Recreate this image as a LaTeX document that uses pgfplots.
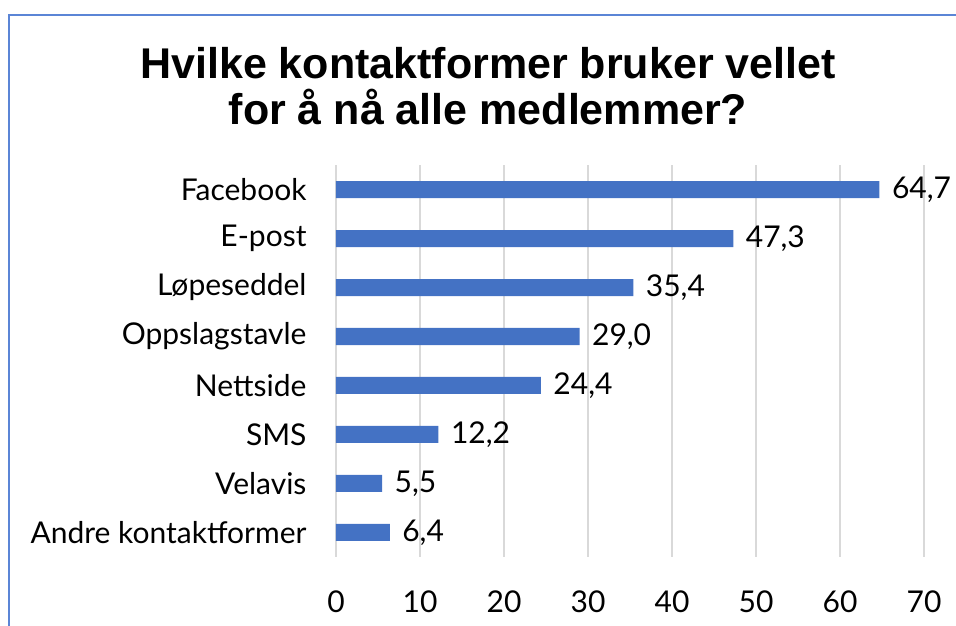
\documentclass[border=0pt]{standalone}
\usepackage{fontspec}
\setmainfont{Lato}
\newfontfamily\titlefont{Liberation Sans}
\usepackage{pgfplots}
\pgfplotsset{compat=1.18}
\definecolor{barblue}{HTML}{4472C4}
\definecolor{gridgray}{HTML}{D9D9D9}
\definecolor{framecol}{HTML}{5B85D6}
\begin{document}
\begin{tikzpicture}[x=1pt,y=1pt]
\useasboundingbox (0,0) rectangle (956,626);
\draw[framecol, line width=1.6pt] (9,-2) -- (9,611) -- (958,611);
\node[align=center, font=\titlefont\bfseries\fontsize{43}{46}\selectfont] at (488,540)
  {Hvilke kontaktformer bruker vellet\\for å nå alle medlemmer?};
\begin{axis}[
  at={(336pt,69pt)}, anchor=south west,
  scale only axis, width=588pt, height=392pt,
  xbar, bar width=17pt,
  xmin=0, xmax=70, ymin=-0.5, ymax=7.5,
  xtick={0,10,...,70},
  ytick={0,...,7},
  yticklabels={Andre kontaktformer,Velavis,SMS,Nettside,Oppslagstavle,Løpeseddel,E-post,Facebook},
  xmajorgrids, major grid style={gridgray, line width=1.4pt},
  axis line style={draw=none},
  major tick length=0pt,
  tick label style={font=\fontsize{30}{34}\selectfont},
  /pgf/number format/assume math mode=true,
  xticklabel style={yshift=-30pt},
  yticklabel style={xshift=-26pt},
  nodes near coords,
  nodes near coords style={font=\fontsize{30}{34}\selectfont, black, xshift=9pt,
    /pgf/number format/.cd, fixed, fixed zerofill, precision=1, use comma},
]
\addplot[fill=barblue, draw=none] coordinates {
(6.4,0) (5.5,1) (12.2,2) (24.4,3) (29.0,4) (35.4,5) (47.3,6) (64.7,7)};
\end{axis}
\end{tikzpicture}
\end{document}
